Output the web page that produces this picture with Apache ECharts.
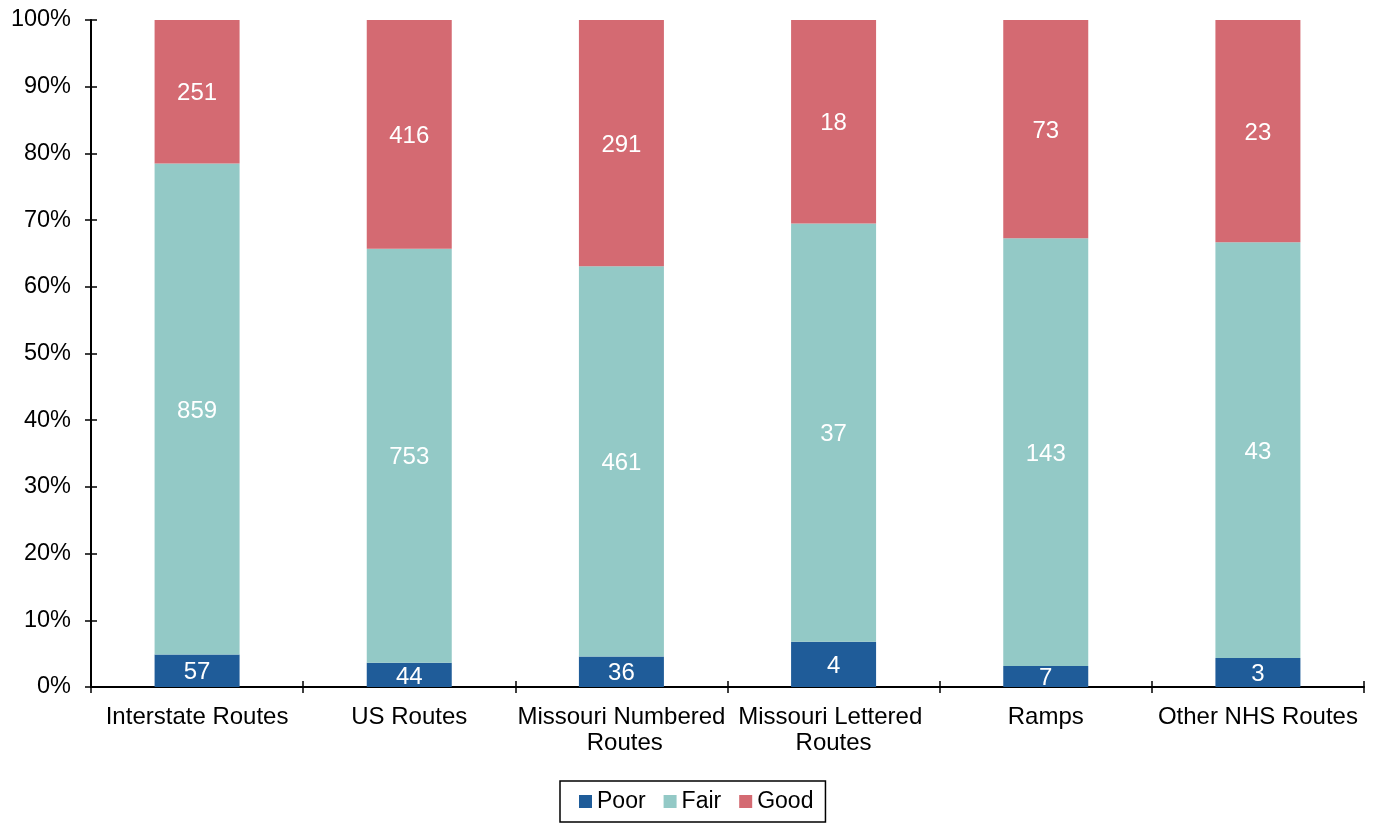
<!DOCTYPE html>
<html><head><meta charset="utf-8">
<script src="https://cdn.jsdelivr.net/npm/echarts@6/dist/echarts.min.js"></script>
<style>html,body{margin:0;padding:0;background:#fff}#c{width:1376px;height:823px}</style>
</head><body><div id="c"></div>
<script>
const categories = ['Interstate Routes', 'US Routes', 'Missouri Numbered Routes', 'Missouri Lettered Routes', 'Ramps', 'Other NHS Routes'];
const poor = [57, 44, 36, 4, 7, 3];
const fair = [859, 753, 461, 37, 143, 43];
const good = [251, 416, 291, 18, 73, 23];
const yTicks = [0, 10, 20, 30, 40, 50, 60, 70, 80, 90, 100];

const totals = categories.map((_, i) => poor[i] + fair[i] + good[i]);
function pct(arr) { return arr.map((v, i) => ({ value: v / totals[i] * 100, count: v })); }

const font = 'Liberation Sans, Arial, sans-serif';
const chart = echarts.init(document.getElementById('c'), null, { renderer: 'canvas' });
const lbl = { show: true, position: 'inside', offset: [0, 2], color: '#fff', fontSize: 24, fontFamily: font, formatter: p => p.data.count };
function series(name, arr, color) {
  return { name, type: 'bar', stack: 'a', barWidth: 85, data: pct(arr), itemStyle: { color }, label: lbl, xAxisIndex: 0, yAxisIndex: 0 };
}
chart.setOption({
  animation: false,
  textStyle: { fontFamily: font },
  grid: { left: 91, right: 12, top: 20, bottom: 136, containLabel: false },
  legend: {
    top: 781, left: 560, data: ['Poor', 'Fair', 'Good'],
    itemWidth: 13, itemHeight: 13, itemGap: 18, icon: 'rect',
    borderColor: '#000', borderWidth: 1.5, borderRadius: 0, padding: [9, 12, 9, 19],
    textStyle: { fontSize: 23, color: '#000', fontFamily: font }
  },
  xAxis: [{
    type: 'category', data: categories, position: 'bottom',
    axisLine: { lineStyle: { color: '#000', width: 2 } },
    axisTick: { show: true, length: 6, inside: false, lineStyle: { color: '#000', width: 1.5 } },
    axisLabel: { color: '#000', fontSize: 24, fontFamily: font, margin: 17, lineHeight: 26, interval: 0, width: 211, overflow: 'break' }
  }, {
    type: 'category', data: categories, position: 'bottom',
    axisLine: { show: false },
    axisTick: { show: true, length: 6, inside: true, lineStyle: { color: '#000', width: 1.5 } },
    axisLabel: { show: false }
  }],
  yAxis: [{
    type: 'value', min: 0, max: 100, interval: 10,
    axisLine: { show: true, lineStyle: { color: '#000', width: 2 } },
    axisTick: { show: true, length: 6, lineStyle: { color: '#000', width: 1.5 } },
    splitLine: { show: false },
    axisLabel: { color: '#000', fontSize: 23.5, fontFamily: font, margin: 20, padding: [3, 0, 0, 0], formatter: v => yTicks.includes(v) ? v + '%' : '' }
  }, {
    type: 'value', min: 0, max: 100, interval: 10, position: 'left',
    axisLine: { show: false },
    axisTick: { show: true, inside: true, length: 6, lineStyle: { color: '#000', width: 1.5 } },
    splitLine: { show: false }, axisLabel: { show: false }
  }],
  series: [
    series('Poor', poor, '#1F5C99'),
    series('Fair', fair, '#93C9C6'),
    series('Good', good, '#D46A72')
  ]
});
</script></body></html>
